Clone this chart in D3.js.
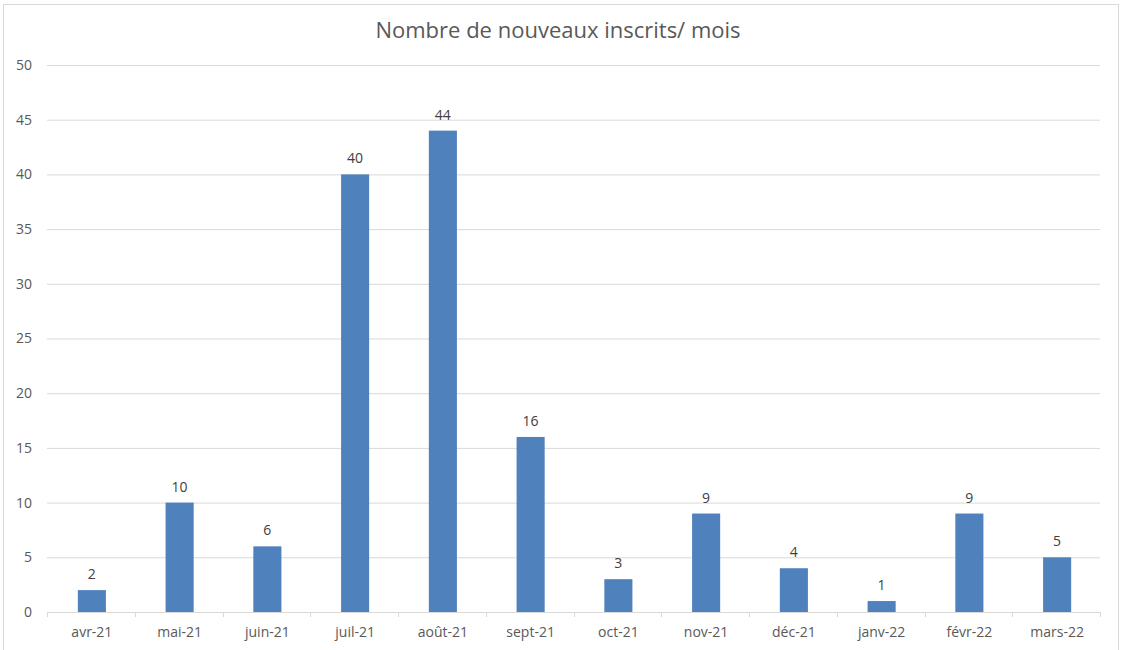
<!DOCTYPE html>
<html><head><meta charset="utf-8">
<script src="https://cdn.jsdelivr.net/npm/d3@7"></script>
<style>body{margin:0;background:#fff}svg{display:block}text{font-family:"Open Sans",sans-serif}</style>
</head><body><svg id="c" width="1122" height="650"></svg>
<script>
const categories = ["avr-21","mai-21","juin-21","juil-21","août-21","sept-21","oct-21","nov-21","déc-21","janv-22","févr-22","mars-22"];
const values = [2,10,6,40,44,16,3,9,4,1,9,5];
const yTicks = [0,5,10,15,20,25,30,35,40,45,50];
const title = "Nombre de nouveaux inscrits/ mois";

const svg = d3.select("#c");
svg.append("rect").attr("x",3.5).attr("y",4.5).attr("width",1115).attr("height",660)
  .attr("fill","#fff").attr("stroke","#d9d9d9");
const m = {l:47, r:1100, t:65, b:612};
const x = d3.scaleBand().domain(categories).range([m.l+1,m.r+1]).paddingInner(0.68).paddingOuter(0.34);
const y = d3.scaleLinear().domain([0,50]).range([m.b,m.t]);

svg.append("g").selectAll("line").data(yTicks.filter(d=>d>0)).join("line")
  .attr("x1",m.l).attr("x2",m.r).attr("y1",d=>y(d)+0.5).attr("y2",d=>y(d)+0.5)
  .attr("stroke","#d9d9d9").attr("stroke-width",1);

svg.append("g").selectAll("text").data(yTicks).join("text")
  .attr("x",32).attr("y",d=>y(d)).attr("dy","0.35em").attr("text-anchor","end")
  .attr("font-size",14).attr("fill","#595959").text(d=>d);

svg.append("g").selectAll("rect").data(values).join("rect")
  .attr("x",(d,i)=>x(categories[i])).attr("width",x.bandwidth())
  .attr("y",d=>y(d)).attr("height",d=>y(0)-y(d)).attr("fill","#4f81bd");

svg.append("g").selectAll("text").data(values).join("text")
  .attr("x",(d,i)=>x(categories[i])+x.bandwidth()/2).attr("y",d=>y(d)-11)
  .attr("text-anchor","middle").attr("font-size",14).attr("fill","#404040").text(d=>d);

const step = (m.r-m.l)/categories.length;
svg.append("line").attr("x1",m.l).attr("x2",m.r).attr("y1",m.b+0.5).attr("y2",m.b+0.5).attr("stroke","#d9d9d9");
svg.append("g").selectAll("line").data(d3.range(categories.length+1)).join("line")
  .attr("x1",i=>Math.round(m.l+i*step)+0.5).attr("x2",i=>Math.round(m.l+i*step)+0.5)
  .attr("y1",m.b).attr("y2",m.b+5).attr("stroke","#d9d9d9");

svg.append("g").selectAll("text").data(categories).join("text")
  .attr("x",d=>x(d)+x.bandwidth()/2).attr("y",637)
  .attr("text-anchor","middle").attr("font-size",14).attr("fill","#595959").text(d=>d);

svg.append("text").attr("x",558).attr("y",38).attr("text-anchor","middle")
  .attr("font-size",22).attr("fill","#595959").text(title);
</script></body></html>
